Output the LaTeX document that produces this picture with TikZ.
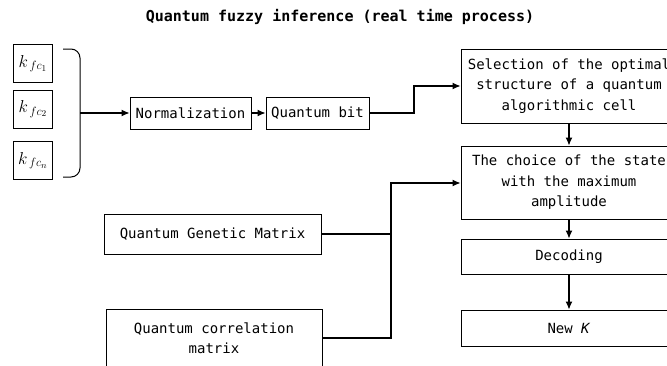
\documentclass[tikz,border=0pt]{standalone}
\usepackage{fontspec}
\setmonofont{DejaVu Sans Mono}
\usetikzlibrary{arrows.meta}

\begin{document}
\begin{tikzpicture}[
    x=1pt, y=-1pt,
    box/.style={rectangle, draw, line width=0.9pt, inner sep=0pt, align=center,
        font=\ttfamily\fontsize{14}{20.5}\selectfont},
    kbox/.style={rectangle, draw, line width=0.9pt, inner sep=0pt, minimum width=39pt,
        minimum height=38pt, font=\fontsize{18}{20}\selectfont},
    wide/.style={box, minimum width=216pt},
    arrow/.style={-{Latex[length=8pt,width=7pt]}, line width=1.2pt},
    link/.style={line width=1.2pt}
]
\useasboundingbox (0,0) rectangle (667,365);
\clip (0,0) rectangle (667,365);

% Title
\node[font=\ttfamily\bfseries\fontsize{15}{18}\selectfont] (title) at (340,17) {Quantum fuzzy inference (real time process)};

% Input coefficients
\node[kbox] (kfc1) at (33,63.5) {$k_{\,fc_1}$};
\node[kbox] (kfc2) at (33,109) {$k_{\,fc_2}$};
\node[kbox] (kfcn) at (33,160.5) {$k_{\,fc_n}$};
\draw[line width=1pt, rounded corners=9pt] (63,49) -| (80,113) |- (63,177);
\coordinate (brace) at (80,113);

% Encoding chain
\node[box, minimum width=121pt, minimum height=32pt] (norm) at (190.5,113) {Normalization};
\node[box, minimum width=103pt, minimum height=32pt] (qbit) at (317.5,113) {Quantum bit};

% Matrices
\node[box, minimum width=217pt, minimum height=40pt] (gen) at (212.5,234) {Quantum Genetic Matrix};
\node[box, minimum width=216pt, minimum height=58pt] (corr) at (214,338) {Quantum correlation\\matrix};

% Right column
\node[wide, minimum height=74pt] (sel) at (569,86) {Selection of the optimal\\structure of a quantum\\algorithmic cell};
\node[wide, minimum height=73pt] (choice) at (569,182.5) {The choice of the state\\with the maximum\\amplitude};
\node[wide, minimum height=35pt] (dec) at (569,256.5) {Decoding};
\node[wide, minimum height=36pt] (newk) at (569,328) {New \textit{K}};

% Connections
\coordinate (qturn) at (414,113);
\coordinate (join) at (391,183);
\draw[arrow] (brace) -- (norm);
\draw[arrow] (norm) -- (qbit);
\draw[arrow] (qbit.east) -- (qturn) |- (sel.west);
\draw[link] (gen.east) -- (gen.east -| join);
\draw[arrow] (corr.east) -| (join) -- (join -| choice.west);
\draw[arrow] (sel) -- (choice);
\draw[arrow] (choice) -- (dec);
\draw[arrow] (dec) -- (newk);

\end{tikzpicture}
\end{document}
